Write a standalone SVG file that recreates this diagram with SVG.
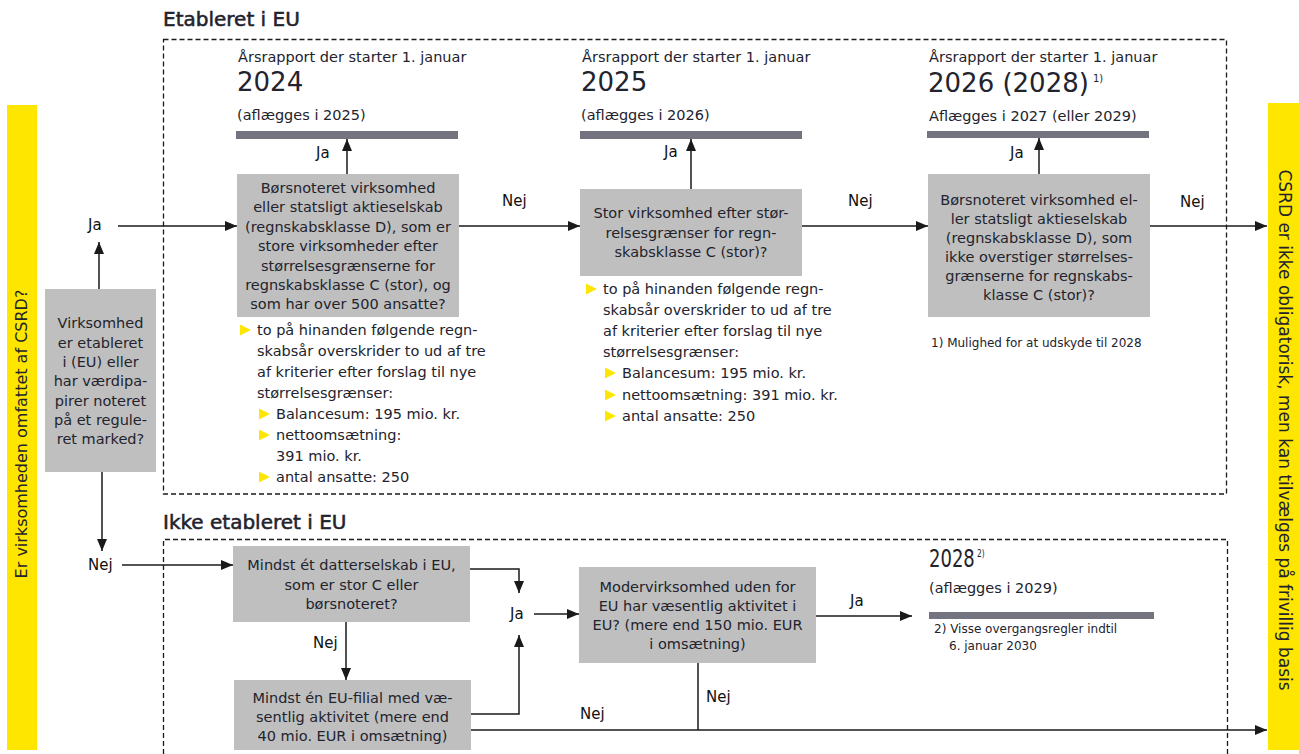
<svg xmlns="http://www.w3.org/2000/svg" xmlns:xlink="http://www.w3.org/1999/xlink" width="1299" height="754" viewBox="0 0 1299 754">
  <style>
    text { font-family: "DejaVu Sans", "Liberation Sans", sans-serif; fill: #23232d; font-size: 14.5px; }
    .mid { text-anchor: middle; }
    .title { font-size: 20px; stroke: #23232d; stroke-width: 0.55; }
    .year { font-size: 26px; }
    .sup { font-size: 10px; }
    .note { font-size: 12px; }
    .lbl { font-size: 15px; fill: #111; }
    .side { font-size: 16px; text-anchor: middle; }
    .box { fill: #bfbfbf; }
    .bar { fill: #747480; }
    .yel { fill: #ffe600; }
    .frame { fill: none; stroke: #1a1a1a; stroke-width: 1.3; stroke-dasharray: 5 3; }
    .conn { fill: none; stroke: #1a1a1a; stroke-width: 1.5; }
    .arr { marker-end: url(#ah); }
  </style>
  <defs>
    <marker id="ah" viewBox="0 0 12 10" refX="12" refY="5" markerWidth="12" markerHeight="10" markerUnits="userSpaceOnUse" orient="auto">
      <path d="M0,0 L12,5 L0,10 Z" fill="#1a1a1a"/>
    </marker>
    <path id="tri" d="M0,-5.5 L11,0 L0,5.5 Z" fill="#ffe600"/>
  </defs>

  <!-- side bars -->
  <g id="side-left">
    <rect class="yel" x="7" y="105" width="30" height="645"/>
    <text class="side" transform="translate(27,434) rotate(-90)">Er virksomheden omfattet af CSRD?</text>
  </g>
  <g id="side-right">
    <rect class="yel" x="1268" y="103" width="31" height="647"/>
    <text class="side" style="font-size:17px" transform="translate(1279,430) rotate(90)">CSRD er ikke obligatorisk, men kan tilvælges på frivillig basis</text>
  </g>

  <!-- section frames -->
  <g id="section-eu">
    <text class="title" x="163" y="26">Etableret i EU</text>
    <rect class="frame" x="163.5" y="39.5" width="1063" height="454.5"/>
  </g>
  <g id="section-non-eu">
    <text class="title" x="163" y="529">Ikke etableret i EU</text>
    <path class="frame" d="M163.5,770 V539.5 H1227.5 V770"/>
  </g>

  <!-- entry question -->
  <g id="q-established">
    <rect class="box" x="45" y="289" width="111" height="183"/>
    <text class="mid" x="100.5" y="328">Virksomhed</text>
    <text class="mid" x="100.5" y="348">er etableret</text>
    <text class="mid" x="100.5" y="367">i (EU) eller</text>
    <text class="mid" x="100.5" y="386">har værdipa-</text>
    <text class="mid" x="100.5" y="406">pirer noteret</text>
    <text class="mid" x="100.5" y="425">på et regule-</text>
    <text class="mid" x="100.5" y="444">ret marked?</text>
  </g>

  <!-- 2024 column -->
  <g id="col-2024">
    <text x="238" y="62">Årsrapport der starter 1. januar</text>
    <text class="year" x="237" y="91">2024</text>
    <text x="237" y="120">(aflægges i 2025)</text>
    <rect class="bar" x="236" y="131" width="222" height="8"/>
  </g>
  <g id="q-listed-large">
    <rect class="box" x="237" y="174" width="222" height="143"/>
    <text class="mid" x="348" y="193">Børsnoteret virksomhed</text>
    <text class="mid" x="348" y="212">eller statsligt aktieselskab</text>
    <text class="mid" x="348" y="232">(regnskabsklasse D), som er</text>
    <text class="mid" x="348" y="251">store virksomheder efter</text>
    <text class="mid" x="348" y="271">størrelsesgrænserne for</text>
    <text class="mid" x="348" y="290">regnskabsklasse C (stor), og</text>
    <text class="mid" x="348" y="309">som har over 500 ansatte?</text>
  </g>
  <g id="criteria-2024">
    <use xlink:href="#tri" x="240" y="330"/>
    <text x="257" y="335">to på hinanden følgende regn-</text>
    <text x="257" y="356">skabsår overskrider to ud af tre</text>
    <text x="257" y="377">af kriterier efter forslag til nye</text>
    <text x="257" y="398">størrelsesgrænser:</text>
    <use xlink:href="#tri" x="259" y="414"/>
    <text x="276" y="419">Balancesum: 195 mio. kr.</text>
    <use xlink:href="#tri" x="259" y="435"/>
    <text x="276" y="440">nettoomsætning:</text>
    <text x="276" y="461">391 mio. kr.</text>
    <use xlink:href="#tri" x="259" y="477"/>
    <text x="276" y="482">antal ansatte: 250</text>
  </g>

  <!-- 2025 column -->
  <g id="col-2025">
    <text x="582" y="62">Årsrapport der starter 1. januar</text>
    <text class="year" x="581" y="91">2025</text>
    <text x="581" y="120">(aflægges i 2026)</text>
    <rect class="bar" x="580" y="131" width="222" height="8"/>
  </g>
  <g id="q-large">
    <rect class="box" x="580" y="189" width="222" height="87"/>
    <text class="mid" x="691" y="218">Stor virksomhed efter stør-</text>
    <text class="mid" x="691" y="238">relsesgrænser for regn-</text>
    <text class="mid" x="691" y="257">skabsklasse C (stor)?</text>
  </g>
  <g id="criteria-2025">
    <use xlink:href="#tri" x="586" y="289"/>
    <text x="603" y="294">to på hinanden følgende regn-</text>
    <text x="603" y="315">skabsår overskrider to ud af tre</text>
    <text x="603" y="336">af kriterier efter forslag til nye</text>
    <text x="603" y="357">størrelsesgrænser:</text>
    <use xlink:href="#tri" x="605" y="373"/>
    <text x="622" y="378">Balancesum: 195 mio. kr.</text>
    <use xlink:href="#tri" x="605" y="395"/>
    <text x="622" y="400">nettoomsætning: 391 mio. kr.</text>
    <use xlink:href="#tri" x="605" y="416"/>
    <text x="622" y="421">antal ansatte: 250</text>
  </g>

  <!-- 2026 column -->
  <g id="col-2026">
    <text x="929" y="62">Årsrapport der starter 1. januar</text>
    <text class="year" x="928" y="92">2026 (2028)<tspan class="sup" dx="4" dy="-10">1)</tspan></text>
    <text x="929" y="121">Aflægges i 2027 (eller 2029)</text>
    <rect class="bar" x="927" y="131" width="222" height="7"/>
    <text class="note" x="931" y="347">1) Mulighed for at udskyde til 2028</text>
  </g>
  <g id="q-listed-small">
    <rect class="box" x="928" y="174" width="222" height="143"/>
    <text class="mid" x="1039" y="205">Børsnoteret virksomhed el-</text>
    <text class="mid" x="1039" y="224">ler statsligt aktieselskab</text>
    <text class="mid" x="1039" y="243">(regnskabsklasse D), som</text>
    <text class="mid" x="1039" y="262">ikke overstiger størrelses-</text>
    <text class="mid" x="1039" y="281">grænserne for regnskabs-</text>
    <text class="mid" x="1039" y="300">klasse C (stor)?</text>
  </g>

  <!-- non-EU branch -->
  <g id="q-subsidiary">
    <rect class="box" x="233" y="546" width="237" height="76"/>
    <text class="mid" x="351.5" y="570">Mindst ét datterselskab i EU,</text>
    <text class="mid" x="351.5" y="590">som er stor C eller</text>
    <text class="mid" x="351.5" y="609">børsnoteret?</text>
  </g>
  <g id="q-branch">
    <rect class="box" x="234" y="680" width="237" height="70"/>
    <text class="mid" x="352.5" y="703">Mindst én EU-filial med væ-</text>
    <text class="mid" x="352.5" y="722">sentlig aktivitet (mere end</text>
    <text class="mid" x="352.5" y="741">40 mio. EUR i omsætning)</text>
  </g>
  <g id="q-parent">
    <rect class="box" x="579" y="567" width="237" height="96"/>
    <text class="mid" x="697.5" y="592">Modervirksomhed uden for</text>
    <text class="mid" x="697.5" y="611">EU har væsentlig aktivitet i</text>
    <text class="mid" x="697.5" y="630">EU? (mere end 150 mio. EUR</text>
    <text class="mid" x="697.5" y="649">i omsætning)</text>
  </g>
  <g id="col-2028">
    <!-- condensed year figure with its footnote mark -->
    <text style="font-size:24px" transform="translate(929,567) scale(0.75,1)">2028<tspan class="sup" dx="3" dy="-10">2)</tspan></text>
    <text x="929" y="593">(aflægges i 2029)</text>
    <rect class="bar" x="929" y="612" width="225" height="7"/>
    <text class="note" x="934" y="633">2) Visse overgangsregler indtil</text>
    <text class="note" x="949" y="650">6. januar 2030</text>
  </g>

  <!-- connectors -->
  <g id="connectors">
    <path class="conn arr" d="M99,289 V242"/>
    <path class="conn arr" d="M118,226 H237"/>
    <path class="conn arr" d="M102,472 V551"/>
    <path class="conn arr" d="M122,565 H233"/>
    <path class="conn arr" d="M347,174 V139"/>
    <path class="conn arr" d="M459,226 H580"/>
    <path class="conn arr" d="M691,189 V139"/>
    <path class="conn arr" d="M802,226 H928"/>
    <path class="conn arr" d="M1039,174 V138"/>
    <path class="conn arr" d="M1150,226 H1267"/>
    <path class="conn arr" d="M470,569 H519 V593"/>
    <path class="conn arr" d="M534,614 H579"/>
    <path class="conn arr" d="M471,714 H519 V635"/>
    <path class="conn arr" d="M346,622 V680"/>
    <path class="conn arr" d="M816,616 H912"/>
    <path class="conn" d="M698,663 V730"/>
    <path class="conn arr" d="M471,730 H1267"/>
  </g>

  <!-- connector labels -->
  <g id="labels">
    <text class="lbl" x="88" y="230">Ja</text>
    <text class="lbl" x="88" y="570">Nej</text>
    <text class="lbl" x="316" y="158">Ja</text>
    <text class="lbl" x="664" y="157">Ja</text>
    <text class="lbl" x="1010" y="158">Ja</text>
    <text class="lbl" x="502" y="206">Nej</text>
    <text class="lbl" x="848" y="206">Nej</text>
    <text class="lbl" x="1180" y="207">Nej</text>
    <text class="lbl" x="313" y="648">Nej</text>
    <text class="lbl" x="510" y="619">Ja</text>
    <text class="lbl" x="850" y="606">Ja</text>
    <text class="lbl" x="706" y="702">Nej</text>
    <text class="lbl" x="580" y="719">Nej</text>
  </g>
</svg>
